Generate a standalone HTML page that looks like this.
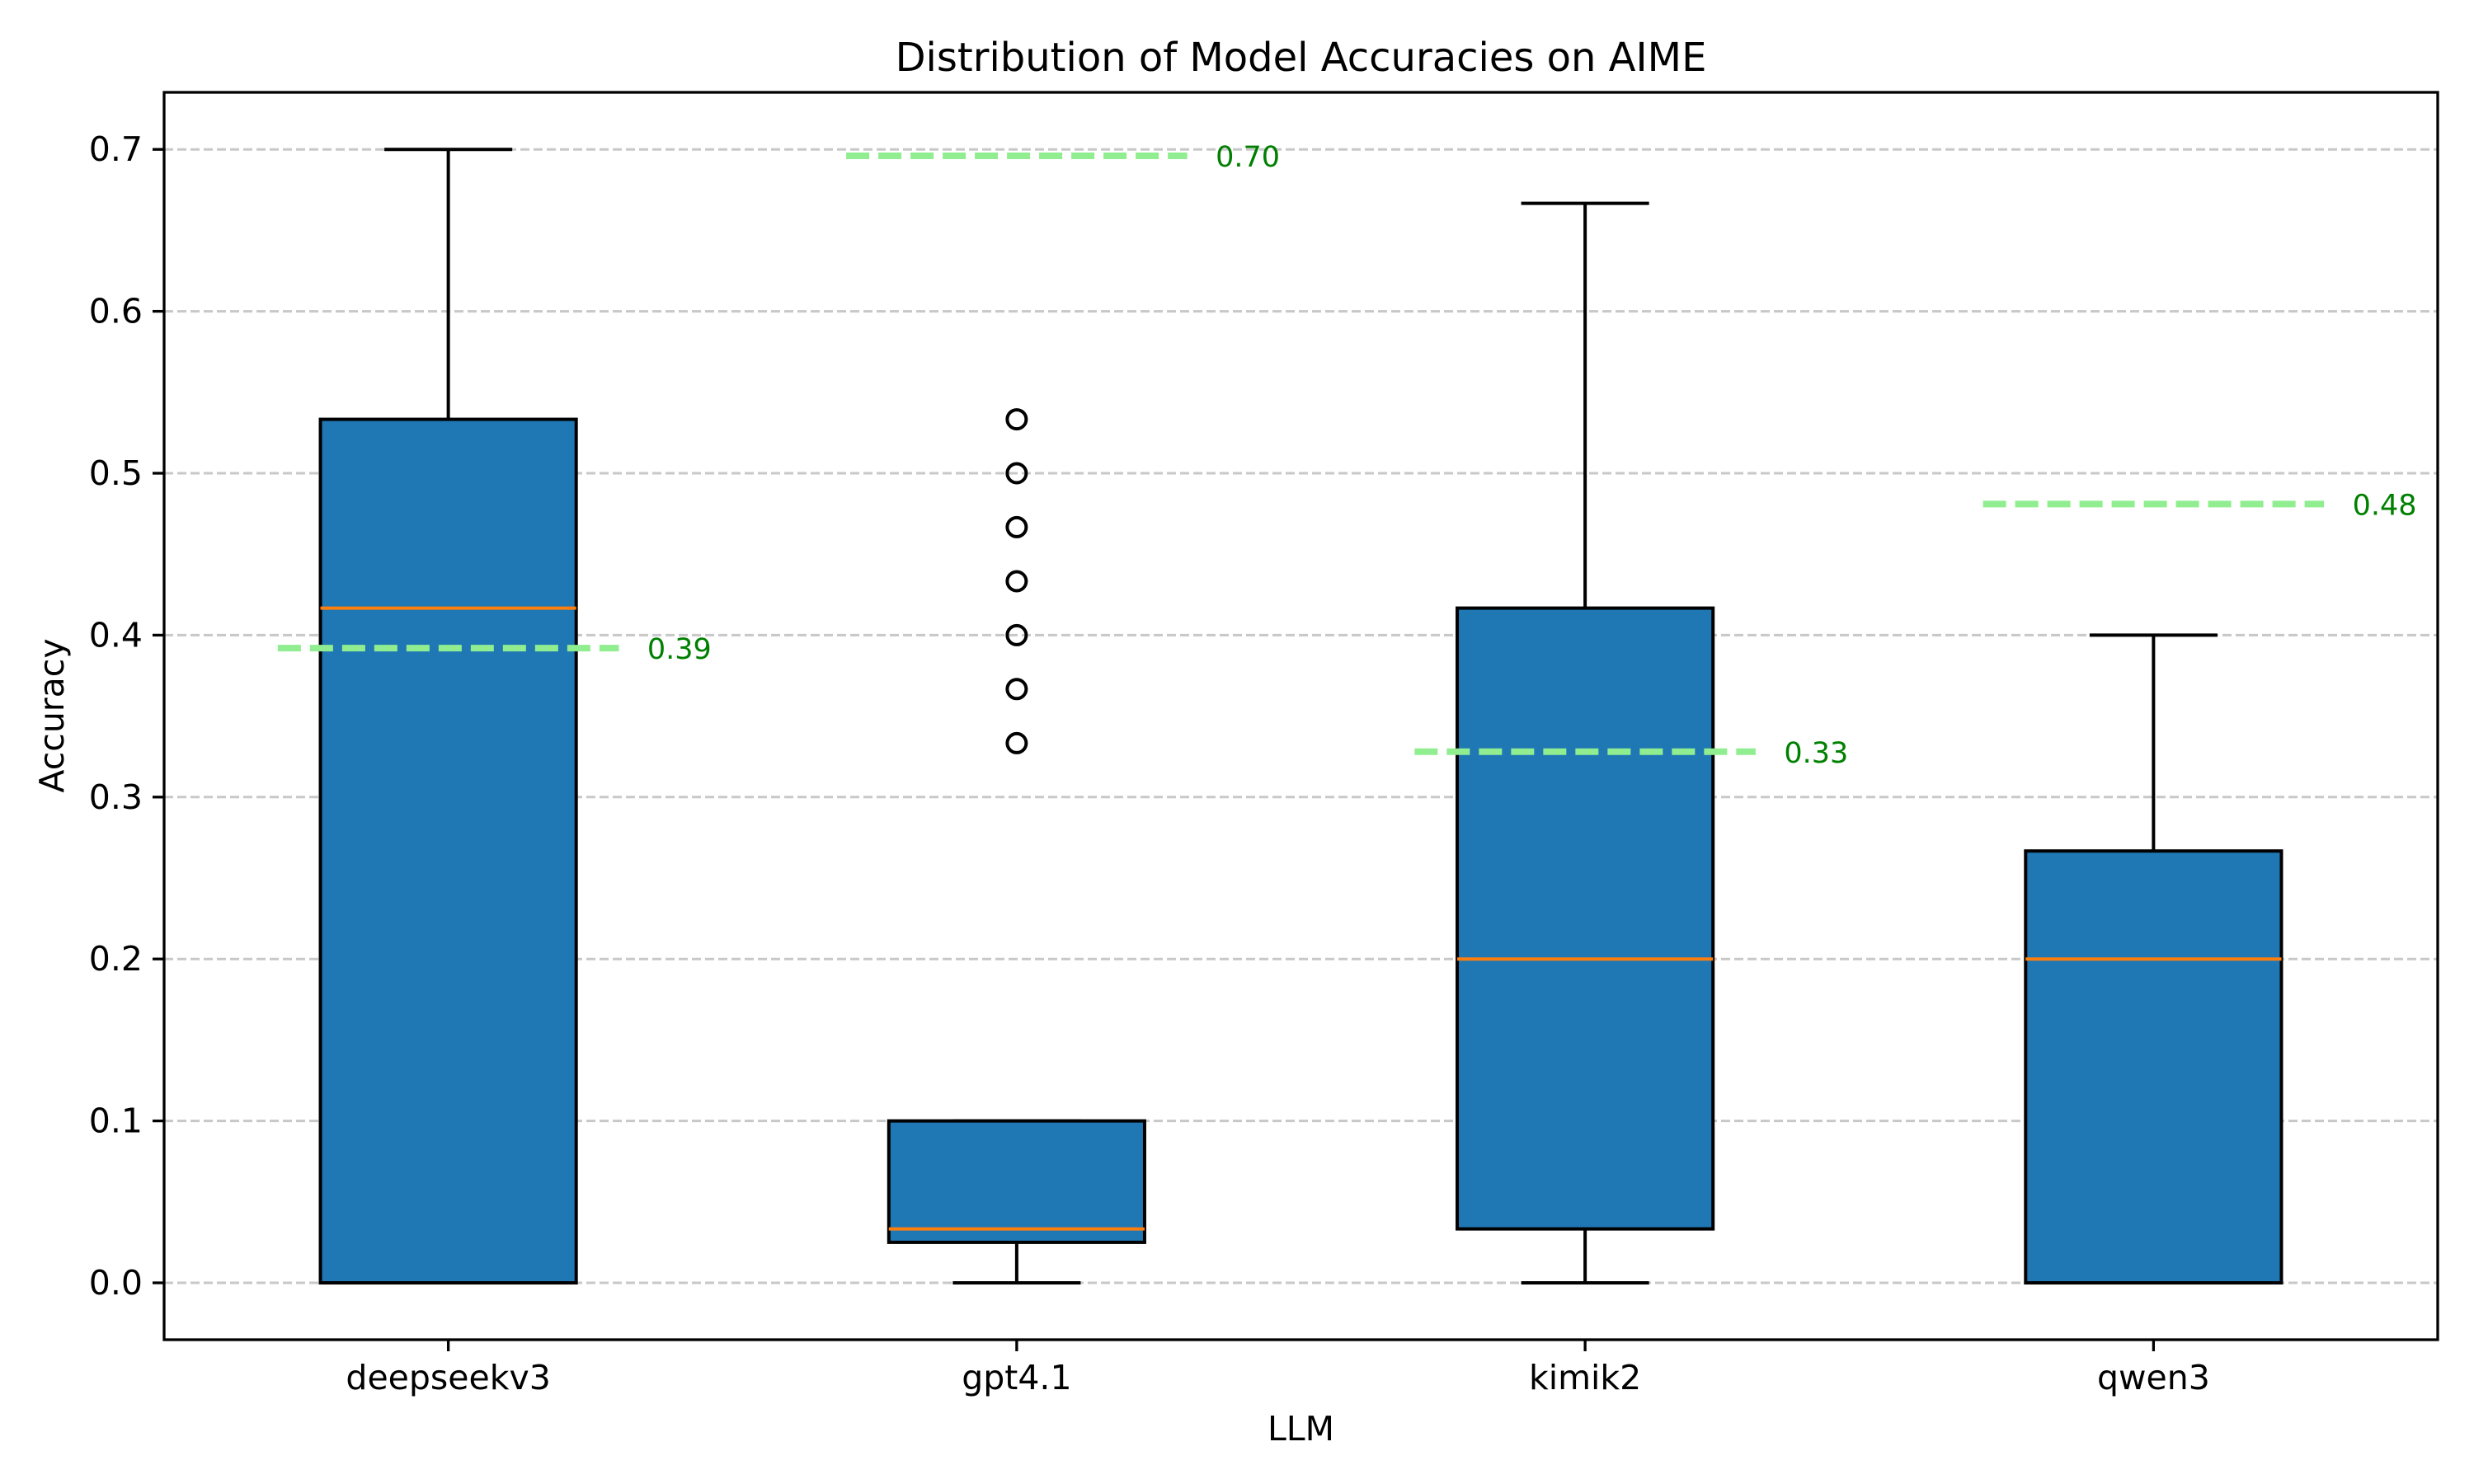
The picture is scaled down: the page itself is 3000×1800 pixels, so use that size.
<!DOCTYPE html>
<html><head><meta charset="utf-8"><style>
html,body{margin:0;padding:0;background:#fff}
svg{display:block;font-family:"DejaVu Sans","Liberation Sans",sans-serif}
</style></head><body>
<svg id="chart" width="3000" height="1800" viewBox="0 0 3000 1800" xmlns="http://www.w3.org/2000/svg">
<rect width="3000" height="1800" fill="#fff"/>
<g id="grid"></g>
<g id="marks"></g>
<g id="axes"></g>
</svg>
<script>
const categories = ["deepseekv3","gpt4.1","kimik2","qwen3"];
const q1 = [0, 0.025, 0.0333, 0];
const medians = [0.4167, 0.0333, 0.2, 0.2];
const q3 = [0.5333, 0.1, 0.4167, 0.2667];
const whiskerLow = [0, 0, 0, 0];
const whiskerHigh = [0.7, 0.1, 0.6667, 0.4];
const outliers = [[], [0.5333,0.5,0.4667,0.4333,0.4,0.3667,0.3333], [], []];
const means = [0.392, 0.696, 0.328, 0.481];
const meanLabels = ["0.39","0.70","0.33","0.48"];
const yTicks = [0,0.1,0.2,0.3,0.4,0.5,0.6,0.7];
const yTickLabels = ["0.0","0.1","0.2","0.3","0.4","0.5","0.6","0.7"];

const L=199, R=2956, T=112, B=1625;
function ys(v){ return 1556 - v*1964; }
function xs(i){ return L + (i+0.5)*(R-L)/categories.length; }
const unit=(R-L)/categories.length;
const NS="http://www.w3.org/2000/svg";
function mk(parent,tag,attrs){const e=document.createElementNS(NS,tag);for(const k in attrs)e.setAttribute(k,attrs[k]);document.getElementById(parent).appendChild(e);return e;}

yTicks.forEach((v,i)=>{
  const g=mk('grid','line',{x1:L,x2:R,y1:ys(v),y2:ys(v),stroke:'#c8c8c8','stroke-width':3,'stroke-dasharray':'11,5'});
  
  
  const t=mk('axes','line',{x1:L-14,x2:L,y1:ys(v),y2:ys(v),stroke:'#000','stroke-width':3.3});
  
  
  const tx=mk('axes','text',{x:L-26,y:ys(v)+14,'text-anchor':'end','font-size':41,fill:'#000'});
  tx.textContent=yTickLabels[i];
  
  
});

categories.forEach((c,i)=>{
  const cx=xs(i), hw=0.225*unit, cw=0.1125*unit;
  const grp=mk('marks','g',{});
  
  
  const id='bx'+i; grp.setAttribute('id',id);
  mk(id,'line',{x1:cx,x2:cx,y1:ys(q3[i]),y2:ys(whiskerHigh[i]),stroke:'#000','stroke-width':4});
  mk(id,'line',{x1:cx,x2:cx,y1:ys(q1[i]),y2:ys(whiskerLow[i]),stroke:'#000','stroke-width':4});
  mk(id,'line',{x1:cx-cw,x2:cx+cw,y1:ys(whiskerHigh[i]),y2:ys(whiskerHigh[i]),stroke:'#000','stroke-width':4});
  mk(id,'line',{x1:cx-cw,x2:cx+cw,y1:ys(whiskerLow[i]),y2:ys(whiskerLow[i]),stroke:'#000','stroke-width':4});
  mk(id,'rect',{x:cx-hw,y:ys(q3[i]),width:2*hw,height:ys(q1[i])-ys(q3[i]),fill:'#1f77b4',stroke:'#000','stroke-width':4});
  const m=mk(id,'line',{x1:cx-hw,x2:cx+hw,y1:ys(medians[i]),y2:ys(medians[i]),stroke:'#ff7f0e','stroke-width':4});
  
  
  outliers[i].forEach(v=>{
    const o=mk(id,'circle',{cx:cx,cy:ys(v),r:11.5,fill:'none',stroke:'#000','stroke-width':4});
    
    
  });
  const ml=mk(id,'line',{x1:cx-0.3*unit,x2:cx+0.3*unit,y1:ys(means[i]),y2:ys(means[i]),stroke:'#90ee90','stroke-width':8,'stroke-dasharray':'28,11'});
  
  
  const mt=mk(id,'text',{x:cx+0.35*unit,y:ys(means[i])+13,'font-size':35,fill:'#008000'});
  mt.textContent=meanLabels[i];
  
  
  const xt=mk('axes','line',{x1:cx,x2:cx,y1:B,y2:B+14,stroke:'#000','stroke-width':3.3});
  
  
  const xl=mk('axes','text',{x:cx,y:B+60,'text-anchor':'middle','font-size':41,fill:'#000'});
  xl.textContent=c;
  
  
});

const fr=mk('axes','rect',{x:L,y:T,width:R-L,height:B-T,fill:'none',stroke:'#000','stroke-width':3.3});


const ti=mk('axes','text',{x:(L+R)/2,y:86,'text-anchor':'middle','font-size':48,fill:'#000'});
ti.textContent='Distribution of Model Accuracies on AIME';


const xa=mk('axes','text',{x:(L+R)/2,y:1747,'text-anchor':'middle','font-size':41,fill:'#000'});
xa.textContent='LLM';


const ya=mk('axes','text',{x:0,y:0,'text-anchor':'middle','font-size':41,fill:'#000',transform:'translate(77,868) rotate(-90)'});
ya.textContent='Accuracy';


</script>
</body></html>
